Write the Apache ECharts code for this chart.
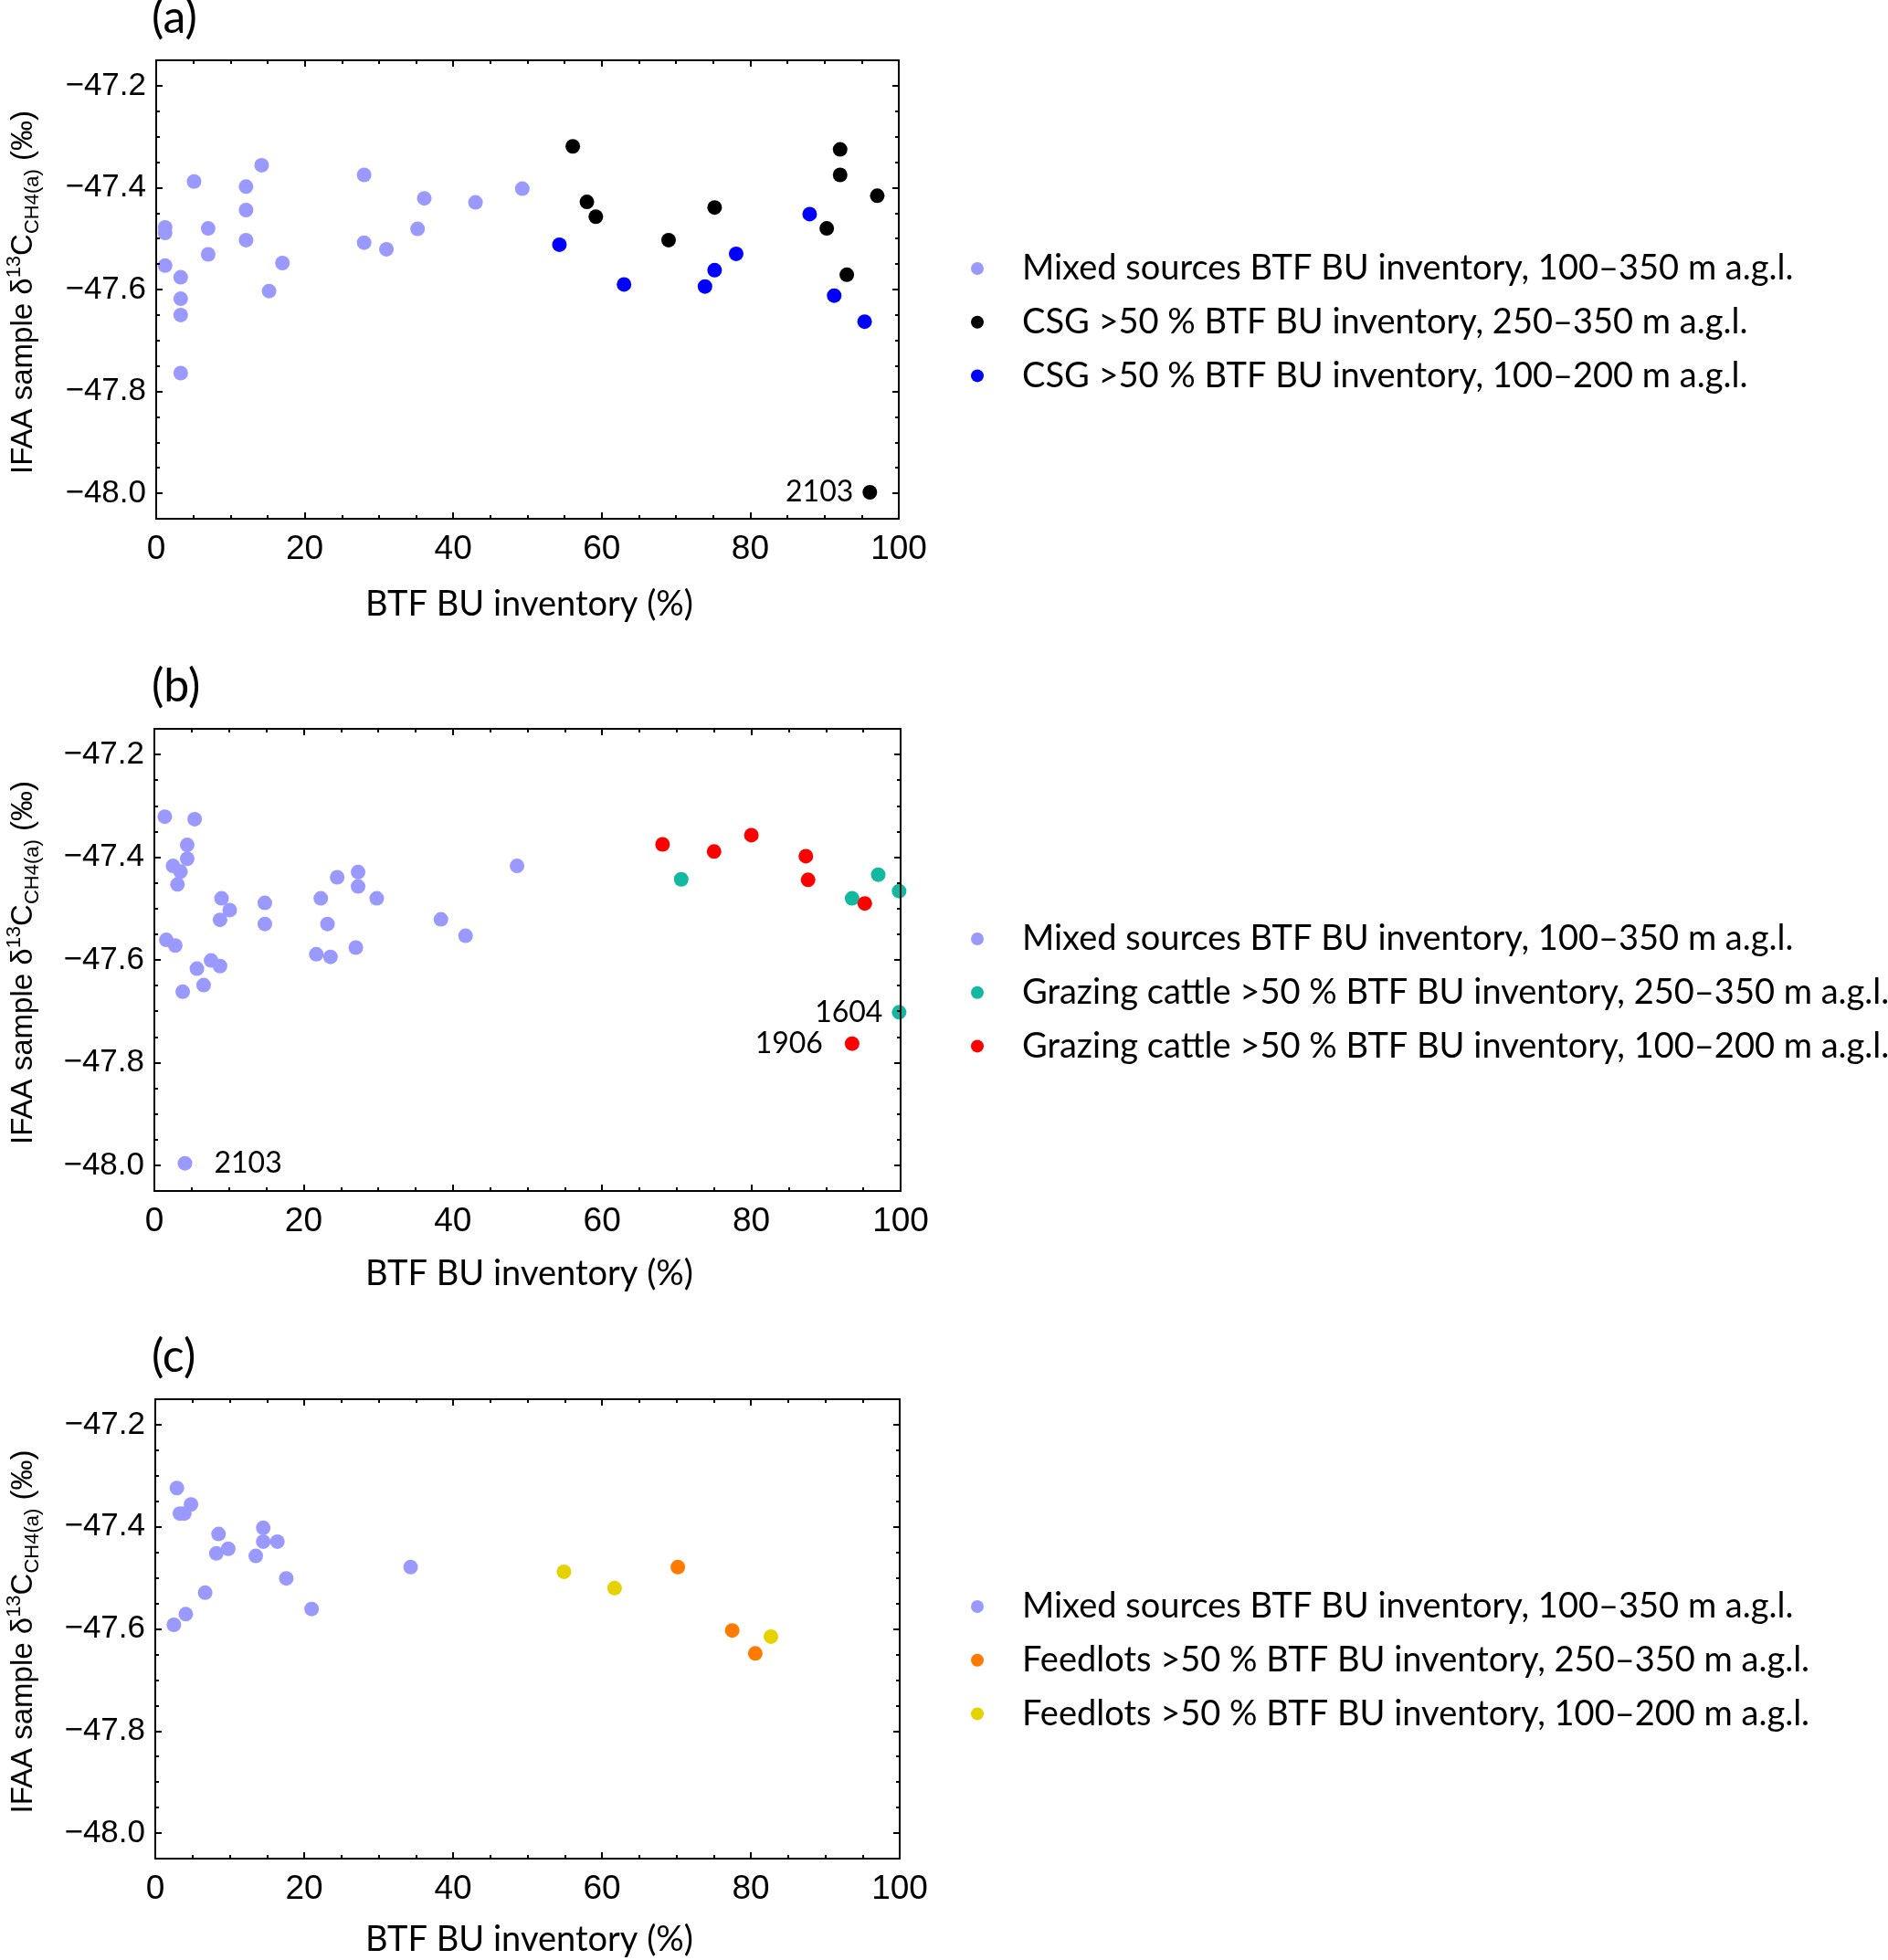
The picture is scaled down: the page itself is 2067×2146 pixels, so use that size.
<!DOCTYPE html>
<html>
<head>
<meta charset="utf-8">
<script src="https://cdn.jsdelivr.net/npm/echarts@6/dist/echarts.min.js"></script>
<style>
html,body{margin:0;padding:0;background:#fff;}
#chart{width:2067px;height:2146px;}
</style>
</head>
<body>
<div id="chart"></div>
<script>
// ---------- data ----------
const X_TICKS = [0, 20, 40, 60, 80, 100];
const Y_TICKS = [-48.0, -47.8, -47.6, -47.4, -47.2];

const MIXED_NAME = 'Mixed sources BTF BU inventory, 100–350 m a.g.l.';
const NAMES_A = [MIXED_NAME, 'CSG >50 % BTF BU inventory, 250–350 m a.g.l.', 'CSG >50 % BTF BU inventory, 100–200 m a.g.l.'];
const NAMES_B = [MIXED_NAME, 'Grazing cattle >50 % BTF BU inventory, 250–350 m a.g.l.', 'Grazing cattle >50 % BTF BU inventory, 100–200 m a.g.l.'];
const NAMES_C = [MIXED_NAME, 'Feedlots >50 % BTF BU inventory, 250–350 m a.g.l.', 'Feedlots >50 % BTF BU inventory, 100–200 m a.g.l.'];

// panel (a)
const mixedA = [
  [1.2, -47.478], [1.2, -47.489], [1.2, -47.553], [3.3, -47.576], [3.3, -47.618],
  [3.3, -47.650], [3.3, -47.764], [5.1, -47.388], [7.0, -47.480], [7.0, -47.531],
  [12.1, -47.398], [12.1, -47.444], [12.1, -47.503], [14.2, -47.356], [15.2, -47.603],
  [17.0, -47.548], [28.0, -47.375], [28.0, -47.508], [31.0, -47.521], [35.2, -47.481],
  [36.1, -47.421], [43.0, -47.429], [49.3, -47.402]
];
const csgHighA = [
  [56.1, -47.319], [58.0, -47.428], [59.2, -47.457], [69.0, -47.503], [75.2, -47.439],
  [90.3, -47.480], [92.1, -47.325], [92.1, -47.375], [93.0, -47.571], [97.1, -47.416],
  [96.1, -47.998, '2103']
];
const csgLowA = [
  [54.3, -47.512], [63.0, -47.590], [73.9, -47.594], [75.2, -47.562], [78.1, -47.530],
  [88.0, -47.452], [91.3, -47.612], [95.4, -47.663]
];

// panel (b)
const mixedB = [
  [1.4, -47.321], [5.4, -47.326], [4.4, -47.376], [4.4, -47.403], [2.5, -47.417],
  [3.5, -47.428], [3.1, -47.453], [1.6, -47.561], [2.8, -47.572], [9.0, -47.480],
  [10.1, -47.503], [8.8, -47.522], [7.6, -47.601], [5.7, -47.617], [8.8, -47.612],
  [6.6, -47.649], [3.8, -47.662], [14.8, -47.489], [14.8, -47.530], [22.3, -47.480],
  [24.5, -47.439], [23.2, -47.530], [21.7, -47.589], [23.6, -47.594], [27.3, -47.429],
  [27.3, -47.457], [29.8, -47.480], [27.0, -47.576], [38.4, -47.521], [41.7, -47.553],
  [48.6, -47.417], [4.1, -47.996, '2103']
];
const grazingHighB = [
  [70.6, -47.443], [93.5, -47.480], [97.0, -47.434], [99.8, -47.466], [99.8, -47.702, '1604']
];
const grazingLowB = [
  [68.1, -47.375], [75.0, -47.389], [80.0, -47.357], [87.3, -47.398], [87.6, -47.444],
  [95.2, -47.490], [93.5, -47.763, '1906']
];

// panel (c)
const mixedC = [
  [2.9, -47.324], [4.8, -47.356], [3.3, -47.374], [3.9, -47.374], [8.5, -47.414],
  [14.5, -47.402], [14.5, -47.429], [16.4, -47.429], [8.2, -47.452], [9.8, -47.443],
  [13.5, -47.457], [34.3, -47.479], [17.6, -47.501], [6.7, -47.529], [21.0, -47.561],
  [4.1, -47.571], [2.5, -47.592]
];
const feedHighC = [[70.2, -47.479], [77.5, -47.603], [80.6, -47.648]];
const feedLowC = [[54.9, -47.488], [61.7, -47.520], [82.7, -47.615]];

// ---------- styles / layout ----------
const COLORS_A = ['#9999ff', '#000000', '#0000ff'];
const COLORS_B = ['#9999ff', '#12b8a0', '#ff0000'];
const COLORS_C = ['#9999ff', '#ff7b00', '#e6d200'];
const LABEL_STYLE = { // annotation placement, keyed by panel + label text
  'a2103': {position: 'left', distance: 10},
  'b2103': {position: 'right', distance: 24},
  'b1604': {position: 'left', distance: 10},
  'b1906': {position: 'left', distance: 24}
};

const panels = [
  {key: 'a', grid: {left: 171, top: 66, width: 813, height: 502}, title: '(a)', titleY: 20,
   names: NAMES_A, colors: COLORS_A, data: [mixedA, csgHighA, csgLowA], legendTop: 269, xTitleY: 662},
  {key: 'b', grid: {left: 169, top: 798, width: 817, height: 506}, title: '(b)', titleY: 752,
   names: NAMES_B, colors: COLORS_B, data: [mixedB, grazingHighB, grazingLowB], legendTop: 1003, xTitleY: 1395},
  {key: 'c', grid: {left: 170, top: 1532, width: 815, height: 503}, title: '(c)', titleY: 1486,
   names: NAMES_C, colors: COLORS_C, data: [mixedC, feedHighC, feedLowC], legendTop: 1734, xTitleY: 2124}
];

const X_MIN = 0, X_MAX = 100, Y_MIN = -48.05, Y_MAX = -47.15;
const X_MINOR = [];
for (let v = X_MIN; v <= X_MAX; v += 5) if (X_TICKS.indexOf(v) < 0) X_MINOR.push(v);
const Y_MINOR = [];
for (let i = 0; i <= 18; i++) {
  const v = Math.round((Y_MIN + i * 0.05) * 100) / 100;
  if (!Y_TICKS.some(t => Math.abs(t - v) < 1e-6)) Y_MINOR.push(v);
}

const AX_FONT = 'Liberation Sans';
const TXT_FONT = 'Lato';

function xAxis(gi, pos, major) {
  return {
    type: 'value', gridIndex: gi, min: X_MIN, max: X_MAX, position: pos, z: 5,
    axisLine: {show: major, onZero: false, lineStyle: {color: '#000', width: 2}},
    axisTick: {show: true, inside: true, length: major ? 7 : 4, customValues: major ? X_TICKS : X_MINOR,
               lineStyle: {color: '#000', width: 2}},
    axisLabel: {show: major && pos === 'bottom', customValues: X_TICKS, margin: 15,
                fontFamily: AX_FONT, fontSize: 37, color: '#000'},
    splitLine: {show: false}
  };
}
function yAxis(gi, pos, major) {
  return {
    type: 'value', gridIndex: gi, min: Y_MIN, max: Y_MAX, position: pos, z: 5,
    axisLine: {show: major, onZero: false, lineStyle: {color: '#000', width: 2}},
    axisTick: {show: true, inside: true, length: major ? 7 : 4, customValues: major ? Y_TICKS : Y_MINOR,
               lineStyle: {color: '#000', width: 2}},
    axisLabel: {show: major && pos === 'left', customValues: Y_TICKS, margin: 11,
                fontFamily: AX_FONT, fontSize: 35, color: '#000',
                formatter: v => Number(v).toFixed(1).replace('-', '\u2212')},
    splitLine: {show: false}
  };
}

const grids = [], xAxes = [], yAxes = [], series = [], legends = [], graphics = [];
panels.forEach((p, gi) => {
  grids.push(Object.assign({containLabel: false, outerBoundsMode: 'none'}, p.grid));
  xAxes.push(xAxis(gi, 'bottom', true), xAxis(gi, 'bottom', false), xAxis(gi, 'top', true), xAxis(gi, 'top', false));
  yAxes.push(yAxis(gi, 'left', true), yAxis(gi, 'left', false), yAxis(gi, 'right', true), yAxis(gi, 'right', false));
  p.data.forEach((arr, si) => {
    series.push({
      type: 'scatter', name: p.names[si], xAxisIndex: gi * 4, yAxisIndex: gi * 4,
      symbol: 'circle', symbolSize: 16, clip: true,
      itemStyle: {color: p.colors[si], opacity: 1},
      emphasis: {disabled: true},
      data: arr.map(pt => {
        if (pt.length > 2) {
          const st = LABEL_STYLE[p.key + pt[2]];
          return {value: [pt[0], pt[1]], name: pt[2],
                  label: {show: true, position: st.position, distance: st.distance, formatter: '{b}',
                          fontFamily: TXT_FONT, fontSize: 32, color: '#000'}};
        }
        return [pt[0], pt[1]];
      })
    });
  });
  legends.push({
    orient: 'vertical', left: 1058, top: p.legendTop, itemWidth: 88, itemHeight: 14, itemGap: 18.7,
    icon: 'circle', selectedMode: false, data: p.names,
    textStyle: {fontFamily: TXT_FONT, fontSize: 38, color: '#000', lineHeight: 40}
  });
  const cx = p.grid.left + p.grid.width / 2;
  const cy = p.grid.top + p.grid.height / 2;
  graphics.push({type: 'text', x: 166, y: p.titleY,
    style: {text: p.title, font: '50px ' + TXT_FONT, fill: '#000', align: 'left', verticalAlign: 'middle'}});
  graphics.push({type: 'text', x: cx + 2, y: p.xTitleY,
    style: {text: 'BTF BU inventory (%)', font: '38px ' + TXT_FONT, fill: '#000', align: 'center', verticalAlign: 'middle'}});
  graphics.push({type: 'text', x: 26, y: cy + 3, rotation: Math.PI / 2,
    style: {text: 'IFAA sample δ{sup|13}C{sub|CH4(a)} (‰)', font: '33px ' + AX_FONT, fill: '#000',
            align: 'center', verticalAlign: 'middle', lineHeight: 42,
            rich: {sup: {fontSize: 22, fontFamily: AX_FONT, lineHeight: 22, verticalAlign: 'top', fill: '#000'},
                   sub: {fontSize: 22, fontFamily: AX_FONT, lineHeight: 22, verticalAlign: 'bottom', fill: '#000'}}}});
});

const chart = echarts.init(document.getElementById('chart'), null, {renderer: 'canvas'});
chart.setOption({
  backgroundColor: '#fff',
  animation: false,
  grid: grids,
  xAxis: xAxes,
  yAxis: yAxes,
  legend: legends,
  series: series,
  graphic: graphics
});
</script>
</body>
</html>
